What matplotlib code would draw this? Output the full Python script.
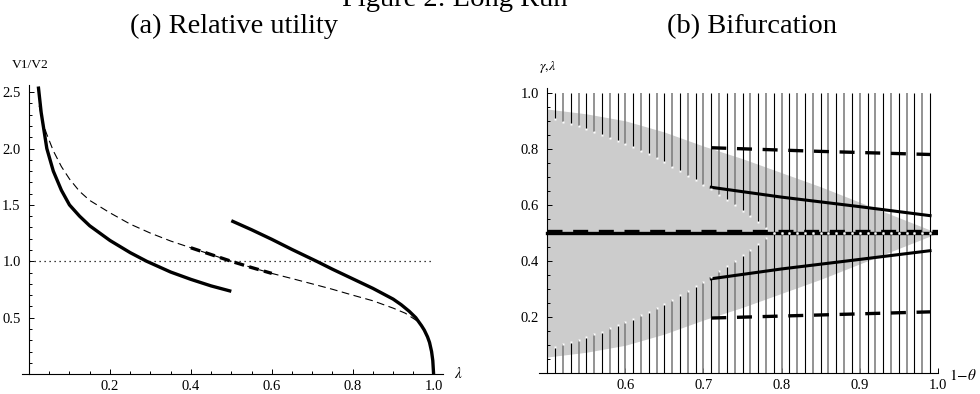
import numpy as np
import matplotlib
matplotlib.use("Agg")
import matplotlib.pyplot as plt
from matplotlib.ticker import FixedLocator

plt.rcParams['font.family'] = ['Liberation Serif', 'DejaVu Serif']
plt.rcParams['mathtext.fontset'] = 'stix'

W, H = 980, 394

# ---- (a) relative utility ----
lam_s1 = [0.023, 0.03, 0.044, 0.06, 0.08, 0.10, 0.125, 0.15, 0.2, 0.25, 0.291, 0.35, 0.4, 0.45, 0.5]
v_s1 = [2.55, 2.32, 2.0, 1.80, 1.63, 1.50, 1.40, 1.315, 1.185, 1.077, 1.0, 0.905, 0.84, 0.782, 0.734]

lam_s2 = [0.5, 0.55, 0.6, 0.65, 0.711, 0.75, 0.8, 0.85, 0.9, 0.92, 0.94, 0.956, 0.97, 0.977, 0.985, 0.99,
          0.995, 0.998, 1.0]
v_s2 = [1.36, 1.28, 1.195, 1.105, 1.0, 0.93, 0.845, 0.76, 0.665, 0.615, 0.556, 0.5, 0.43, 0.39, 0.33, 0.28,
        0.2, 0.12, 0.0]

lam_d = [0.025, 0.035, 0.0435, 0.06, 0.08, 0.1, 0.125, 0.15, 0.2, 0.25, 0.3, 0.35, 0.4, 0.45, 0.5,
         0.55, 0.6, 0.65, 0.7, 0.75, 0.8, 0.85, 0.9, 0.93, 0.96]
v_d = [2.38, 2.22, 2.13, 1.98, 1.84, 1.73, 1.62, 1.54, 1.43, 1.33, 1.25, 1.18, 1.12, 1.06, 1.0,
       0.945, 0.893, 0.847, 0.80, 0.752, 0.70, 0.65, 0.585, 0.54, 0.47]

# ---- (b) bifurcation ----
gray_x = [0.5, 0.55, 0.6, 0.65, 0.7, 0.75, 0.8, 0.85, 0.9, 0.95, 1.0]
gray_lo = [0.058, 0.075, 0.10, 0.14, 0.19, 0.235, 0.285, 0.335, 0.39, 0.445, 0.5]
gray_hi = [0.942, 0.925, 0.90, 0.86, 0.81, 0.765, 0.715, 0.665, 0.61, 0.555, 0.5]

line_x = np.round(np.arange(0.51, 0.995, 0.01), 2)
cut_hi = [0.906, 0.896, 0.889, 0.880, 0.871, 0.861, 0.851, 0.840, 0.829, 0.818, 0.805, 0.793, 0.780, 0.766,
          0.752, 0.737, 0.721, 0.705, 0.690, 0.673, 0.656, 0.637, 0.618, 0.600, 0.580, 0.561, 0.539, 0.519] + [0.5] * 21
cut_lo = [0.094, 0.104, 0.111, 0.120, 0.129, 0.139, 0.149, 0.160, 0.171, 0.182, 0.195, 0.207, 0.220, 0.234,
          0.248, 0.263, 0.279, 0.295, 0.310, 0.327, 0.344, 0.363, 0.382, 0.400, 0.420, 0.439, 0.461, 0.481] + [0.5] * 21

br_x = [0.71, 0.8, 0.9, 0.99]
solid_hi = [0.663, 0.628, 0.594, 0.562]
solid_lo = [0.337, 0.372, 0.406, 0.437]
dash_x = [0.71, 0.85, 0.99]
dash_hi = [0.804, 0.791, 0.780]
dash_lo = [0.197, 0.208, 0.219]
mid_x = [0.5, 1.0]
mid_y = [0.5, 0.5]

fig = plt.figure(figsize=(9.8, 3.94), dpi=100)


def box(l, r, t, b):
    return [l / W, 1 - b / H, (r - l) / W, (b - t) / H]


def style(ax):
    for s in ['top', 'right']:
        ax.spines[s].set_visible(False)
    for s in ['left', 'bottom']:
        ax.spines[s].set_linewidth(0.8)
    ax.tick_params(which='both', direction='in', width=0.7, labelsize=10.5)
    ax.tick_params(which='major', length=3.6)
    ax.tick_params(which='minor', length=2.0)
    ax.tick_params(axis='y', pad=6)
    ax.tick_params(axis='x', pad=4)


# panel a
ax1 = fig.add_axes(box(21.7, 442.7, 84.8, 374.1))
ax1.set_xlim(-0.0181, 1.0225)
ax1.set_ylim(0, 2.565)
style(ax1)
ax1.spines['left'].set_position(('data', 0))
ax1.xaxis.set_major_locator(FixedLocator([0.2, 0.4, 0.6, 0.8, 1.0]))
ax1.xaxis.set_minor_locator(FixedLocator(np.arange(0.05, 1.0, 0.05)))
ax1.set_xticklabels(['0.2', '0.4', '0.6', '0.8', '1.0'])
ax1.yaxis.set_major_locator(FixedLocator([0.5, 1.0, 1.5, 2.0, 2.5]))
ax1.yaxis.set_minor_locator(FixedLocator(np.arange(0.1, 2.55, 0.1)))
ax1.set_yticklabels(['0.5', '1.0', '1.5', '2.0', '2.5'])

ax1.plot([0, 1.0], [1, 1], color='black', lw=0.9, linestyle=(0, (1, 3)))
ax1.plot(lam_d, v_d, color='black', lw=0.8, dashes=(7, 4))
sel = [i for i, v in enumerate(lam_d) if 0.4 <= v <= 0.6]
ax1.plot([lam_d[i] for i in sel], [v_d[i] for i in sel], color='black', lw=2.4, dashes=(3, 1.6))
ax1.plot(lam_s1, v_s1, color='black', lw=2.4, solid_capstyle='butt')
ax1.plot(lam_s2, v_s2, color='black', lw=2.4, solid_capstyle='butt')

# panel b
ax2 = fig.add_axes(box(539.3, 938.3, 88, 373.3))
ax2.set_xlim(0.4898, 1.0006)
ax2.set_ylim(0, 1.017)
style(ax2)
ax2.spines['left'].set_position(('data', 0.5))
ax2.xaxis.set_major_locator(FixedLocator([0.6, 0.7, 0.8, 0.9, 1.0]))
ax2.set_xticklabels(['0.6', '0.7', '0.8', '0.9', '1.0'])
ax2.yaxis.set_major_locator(FixedLocator([0.2, 0.4, 0.6, 0.8, 1.0]))
ax2.yaxis.set_minor_locator(FixedLocator(np.arange(0.05, 1.0, 0.05)))
ax2.set_yticklabels(['0.2', '0.4', '0.6', '0.8', '1.0'])

ax2.fill_between(gray_x, gray_lo, gray_hi, color='#cccccc', lw=0, zorder=1)
for i, x in enumerate(line_x):
    col = 'black' if i % 2 == 0 else '#808080'
    lw = 0.8 if i % 2 == 0 else 1.2
    ax2.vlines(x, 0, cut_lo[i], color=col, lw=lw, zorder=2)
    ax2.vlines(x, cut_hi[i], 1.0, color=col, lw=lw, zorder=2)
ax2.plot(mid_x, mid_y, color='black', lw=2.4, zorder=3)
ax2.plot(mid_x, [v + 0.006 for v in mid_y], color='black', lw=2.4, dashes=(4.5, 3.2), zorder=3)
ax2.plot(br_x, solid_hi, color='black', lw=2.2, zorder=3)
ax2.plot(br_x, solid_lo, color='black', lw=2.2, zorder=3)
ax2.plot(dash_x, dash_hi, color='black', lw=2.4, dashes=(4.5, 3.2), zorder=3)
ax2.plot(dash_x, dash_lo, color='black', lw=2.4, dashes=(4.5, 3.2), zorder=3)
ax2.plot(line_x, cut_hi, linestyle='none', marker='s', ms=1.6, mfc='white', mec='none', zorder=4)
ax2.plot(line_x, cut_lo, linestyle='none', marker='s', ms=1.6, mfc='white', mec='none', zorder=4)

# texts
fig.text(455 / W, 1 - 5.5 / H, 'Figure 2: Long Run', ha='center', va='baseline', fontsize=20.5)
fig.text(234 / W, 1 - 33 / H, '(a) Relative utility', ha='center', va='baseline', fontsize=20.5)
fig.text(751.5 / W, 1 - 33 / H, '(b) Bifurcation', ha='center', va='baseline', fontsize=20.5)
fig.text(30 / W, 1 - 65 / H, 'V1/V2', ha='center', va='center', fontsize=9.7)
fig.text(548 / W, 1 - 67 / H, r'$\gamma{,}\lambda$', ha='center', va='center', fontsize=10)
fig.text(458 / W, 1 - 374 / H, r'$\lambda$', ha='center', va='center', fontsize=11)
fig.text(963.5 / W, 1 - 375 / H, r'$1\!-\!\theta$', ha='center', va='center', fontsize=11)

fig.savefig('out.png', dpi=100)
